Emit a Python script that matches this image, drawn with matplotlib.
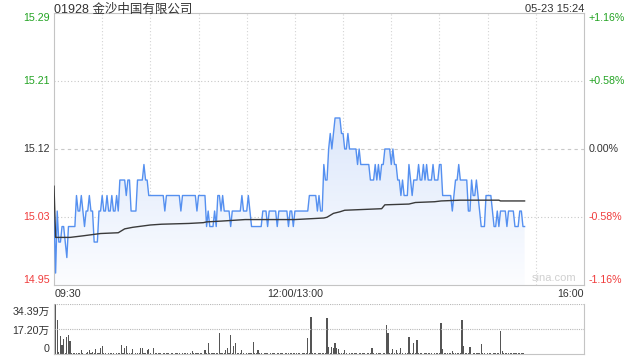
import numpy as np
import matplotlib.pyplot as plt
from matplotlib.colors import LinearSegmentedColormap

plt.rcParams['font.family'] = ['Liberation Sans', 'Noto Sans CJK SC', 'DejaVu Sans']

# ---- data ----
title = "01928 金沙中国有限公司"
stamp = "05-23 15:24"
prev_close = 15.12

# minute price as runs (value, number of minutes), 09:30 .. 15:23
run_price = [15.04, 14.96, 15.04, 15.00, 15.02, 15.00, 14.98, 15.02, 15.06, 15.04,
             15.06, 15.04, 15.02, 15.04, 15.06, 15.04, 15.00, 15.04, 15.06, 15.04,
             15.06, 15.04, 15.06, 15.04, 15.06, 15.04, 15.08, 15.06, 15.08, 15.04,
             15.08, 15.10, 15.08, 15.06, 15.04, 15.06, 15.04, 15.06, 15.04, 15.06,
             15.02, 15.04, 15.02, 15.04, 15.02, 15.06, 15.04, 15.06, 15.04, 15.02,
             15.04, 15.06, 15.04, 15.06, 15.04, 15.02, 15.04, 15.02, 15.04, 15.02,
             15.04, 15.02, 15.04, 15.02,
             15.04, 15.06, 15.04, 15.06, 15.04, 15.10, 15.08, 15.12, 15.14, 15.12,
             15.14, 15.16, 15.14, 15.12, 15.14, 15.12, 15.10, 15.12, 15.10,
             15.08, 15.10, 15.08, 15.10, 15.08, 15.10, 15.12, 15.10, 15.12, 15.10,
             15.08, 15.06, 15.08, 15.06, 15.10, 15.08, 15.06, 15.08, 15.10, 15.08,
             15.10, 15.08, 15.10, 15.08, 15.10, 15.08, 15.10,
             15.06, 15.04, 15.06, 15.08, 15.10, 15.08, 15.04, 15.08, 15.06, 15.08,
             15.06, 15.04, 15.02, 15.06, 15.04, 15.02, 15.04, 15.02, 15.04, 15.02,
             15.04, 15.02, 15.04, 15.02]
run_len = [1, 1, 1, 2, 2, 1, 1, 5, 1, 2,
           1, 1, 1, 2, 1, 2, 3, 2, 1, 2,
           1, 2, 1, 2, 1, 1, 4, 1, 2, 4,
           4, 1, 2, 10, 1, 9, 1, 9, 1, 5,
           1, 1, 3, 1, 1, 2, 1, 1, 4, 1,
           6, 1, 3, 1, 1, 7, 3, 1, 5, 1,
           6, 1, 2, 1,
           9, 5, 1, 1, 2, 1, 2, 1, 1, 1,
           1, 4, 2, 2, 1, 5, 1, 1, 6,
           3, 1, 1, 1, 1, 2, 4, 1, 1, 2,
           2, 1, 1, 3, 1, 1, 1, 3, 1, 2,
           1, 1, 1, 3, 1, 3, 2,
           6, 1, 1, 2, 1, 5, 2, 1, 2, 1,
           1, 1, 3, 4, 1, 2, 1, 1, 4, 1,
           4, 3, 2, 2]

# average price line, sampled (minute index, value)
avg_min = [0, 1, 10, 18, 29, 40, 44, 49, 60, 67, 84, 93, 95, 104, 119, 150,
           168, 170, 174, 178, 181, 204, 206, 221, 225, 237, 241, 253, 277, 278, 293]
avg_val = [15.072, 15.006, 15.006, 15.008, 15.011, 15.012, 15.017, 15.019, 15.022,
           15.023, 15.024, 15.025, 15.026, 15.027, 15.029, 15.029, 15.031, 15.032,
           15.037, 15.039, 15.041, 15.043, 15.048, 15.049, 15.051, 15.052, 15.053,
           15.054, 15.054, 15.053, 15.053]

# minute volume, in 万 shares
volume = [11.0, 34.39, 23.6, 1.2, 12.6, 6.4, 10.3, 0.8, 11.5, 13.3,
          8.7, 0.5, 0.9, 0.4, 1.0, 0.6, 0.8, 3.0, 0.5, 0.3,
          0.8, 1.1, 3.0, 0.6, 1.2, 0.5, 3.4, 0.9, 0.4, 4.1,
          5.7, 0.6, 1.0, 0.3, 0.5, 0.8, 0.4, 0.6, 0.3, 0.5,
          0.7, 0.5, 6.4, 0.8, 4.1, 5.3, 0.6, 0.4, 0.5, 3.4,
          0.3, 0.4, 0.6, 0.7, 4.1, 4.1, 0.5, 0.8, 3.0, 3.4,
          0.6, 0.3, 4.1, 0.5, 0.8, 0.4, 0.6, 0.3, 0.7, 0.5,
          0.4, 0.6, 0.3, 0.5, 0.4, 0.3, 0.6, 0.5, 0.4, 0.3,
          0.6, 0.4, 0.8, 0.5, 0.3, 0.6, 2.3, 0.4, 0.5, 0.6,
          0.4, 1.0, 0.5, 0.3, 3.0, 0.6, 7.6, 0.5, 0.8, 0.6,
          1.0, 0.5, 0.4, 14.4, 0.6, 0.5, 0.8, 3.0, 4.1, 0.5,
          13.3, 0.6, 5.3, 7.6, 0.5, 0.4, 1.0, 3.0, 0.6, 0.3,
          0.5, 0.8, 0.4, 0.6, 8.0, 0.6, 0.5, 3.0, 0.4, 1.0,
          0.3, 0.5, 0.4, 0.6, 0.3, 0.5, 0.4, 0.6, 0.3, 0.5,
          0.7, 0.4, 0.6, 0.3, 0.5, 0.8, 0.4, 0.6, 0.5, 1.0,
          0.6, 0.8, 0.4, 0.5, 0.3, 0.6, 0.5, 0.4, 11.0, 0.6,
          25.4, 0.5, 0.4, 0.6, 0.3, 0.5, 0.4, 0.6, 0.8, 0.5,
          24.8, 4.8, 0.6, 4.8, 4.1, 7.6, 4.1, 3.4, 0.6, 0.4,
          0.5, 3.0, 0.6, 0.3, 0.5, 0.8, 0.4, 0.6, 0.5, 0.3,
          0.6, 0.5, 0.4, 0.8, 0.3, 0.6, 0.5, 0.4, 4.1, 0.6,
          0.3, 0.5, 0.4, 0.6, 0.3, 0.5, 0.4, 20.2, 14.4, 0.6,
          0.5, 3.4, 0.4, 3.0, 0.6, 0.5, 4.1, 0.4, 0.3, 0.6,
          0.5, 11.7, 0.6, 0.4, 7.6, 0.8, 9.9, 0.5, 0.6, 0.4,
          0.3, 0.5, 0.6, 0.4, 0.8, 0.5, 0.3, 0.6, 0.4, 0.5,
          0.6, 21.3, 3.4, 0.5, 0.4, 0.6, 0.5, 0.8, 2.3, 0.5,
          0.4, 0.6, 0.8, 0.5, 23.6, 5.7, 0.6, 0.4, 0.5, 4.8,
          0.3, 0.6, 0.5, 0.4, 0.8, 0.6, 7.1, 0.5, 0.4, 0.3,
          0.5, 0.6, 0.4, 0.3, 0.5, 0.6, 0.4, 0.5, 16.0, 2.3,
          0.6, 0.5, 0.4, 0.8, 0.6, 0.5, 1.0, 0.4, 0.6, 0.8,
          0.5, 0.4, 0.6, 0.3]

price_labels = ["15.29", "15.21", "15.12", "15.03", "14.95"]
pct_labels = ["+1.16%", "+0.58%", "0.00%", "-0.58%", "-1.16%"]
time_labels = ["09:30", "12:00/13:00", "16:00"]
vol_labels = ["34.39万", "17.20万", "0"]

price = np.repeat(run_price, run_len)
t = np.arange(len(price))
n_total = 330                      # 150 morning + 180 afternoon minutes
span = prev_close * 0.0116
ymin, ymax = prev_close - span, prev_close + span
levels = np.linspace(ymax, ymin, 5)
lab_colors = ['#22a322', '#22a322', '#333333', '#f03c3c', '#f03c3c']
grid_c = '#d4d4d4'
border_c = '#c4c4c4'
fs = 7.7

fig = plt.figure(figsize=(6.4, 3.6), dpi=100)
ax = fig.add_axes([54/640, 75/360, 530/640, 272/360])
axv = fig.add_axes([54/640, 6/360, 530/640, 50/360])

# ---- price panel ----
for x in range(30, n_total, 30):
    ax.axvline(x, color=grid_c, lw=0.8, ls=(0, (1, 2)), zorder=0)
for lv, ls in zip(levels[1:4], [(0, (1, 2)), (0, (3, 3)), (0, (1, 2))]):
    ax.axhline(lv, color='#c8c8c8', lw=0.8, ls=ls, zorder=0)

poly = ax.fill_between(t, price, ymin, color='none', lw=0)
cmap = LinearSegmentedColormap.from_list('fill', ['#fcfdff', '#dce7fb'])
img = ax.imshow(np.linspace(0, 1, 256).reshape(-1, 1), cmap=cmap, aspect='auto',
                origin='lower', extent=[0, n_total, ymin, price.max()], zorder=1)
img.set_clip_path(poly.get_paths()[0], transform=ax.transData)

ax.plot(t, price, color='#5590f0', lw=1.0, zorder=3)
ax.plot(avg_min, avg_val, color='#3a3a3a', lw=1.0, zorder=4)

ax.set_xlim(0, n_total)
ax.set_ylim(ymin, ymax)
ax.set_xticks([])
ax.set_yticks([])
for s in ax.spines.values():
    s.set_color(border_c)
    s.set_linewidth(0.8)

ytr = ax.get_yaxis_transform()
for i, (lv, lab, pl, c) in enumerate(zip(levels, price_labels, pct_labels, lab_colors)):
    va = 'top' if i == 0 else ('bottom' if i == 4 else 'center')
    ax.text(-0.008, lv, lab, transform=ytr, ha='right', va=va, color=c, fontsize=fs)
    ax.text(1.009, lv, pl, transform=ytr, ha='left', va=va, color=c, fontsize=fs)

ax.text(0.0, 1.013, title, transform=ax.transAxes, ha='left', va='center',
        fontsize=9, color='#333333')
ax.text(1.0, 1.013, stamp, transform=ax.transAxes, ha='right', va='center',
        fontsize=8, color='#333333')
ax.text(0.985, 0.025, "sina.com", transform=ax.transAxes, ha='right', va='center',
        fontsize=8, color='#d0d0d0')

ax.text(0.002, -0.033, time_labels[0], transform=ax.transAxes, ha='left', va='center',
        fontsize=fs, color='#333333')
ax.text(150 / n_total, -0.033, time_labels[1], transform=ax.transAxes, ha='center',
        va='center', fontsize=fs, color='#333333')
ax.text(1.0, -0.033, time_labels[2], transform=ax.transAxes, ha='right', va='center',
        fontsize=fs, color='#333333')

# ---- volume panel ----
vmax = max(volume)
axv.bar(np.arange(len(volume)), volume, width=0.7, color='#555555', lw=0)
axv.axhline(vmax, color='#b8b8b8', lw=0.8, ls=(0, (1, 1)))
axv.axhline(vmax / 2, color='#b8b8b8', lw=0.8, ls=(0, (1, 1)))
axv.set_xlim(0, n_total)
axv.set_ylim(0, vmax)
axv.set_xticks([])
axv.set_yticks([])
axv.spines['top'].set_visible(False)
for k in ['left', 'right', 'bottom']:
    axv.spines[k].set_color(border_c)
    axv.spines[k].set_linewidth(0.8)
for yy, lab in zip([0.84, 0.46, 0.10], vol_labels):
    axv.text(-0.008, yy, lab, transform=axv.transAxes, ha='right', va='center',
             fontsize=fs, color='#333333')

fig.savefig('out.png', dpi=100)
